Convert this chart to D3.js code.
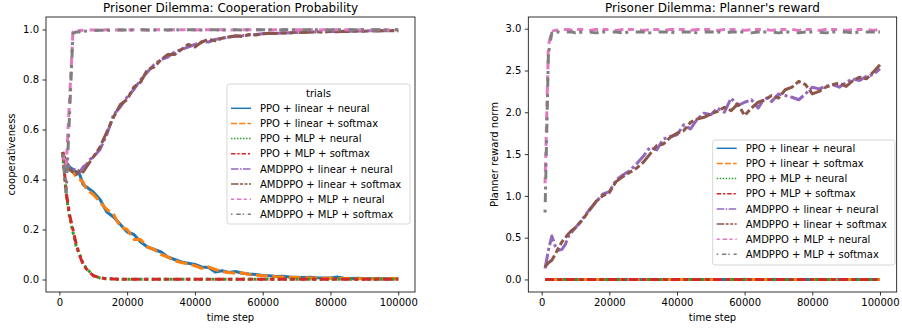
<!DOCTYPE html>
<html>
<head>
<meta charset="utf-8">
<script src="https://cdn.jsdelivr.net/npm/d3@7"></script>
<style>
  body { margin: 0; background: #fff; }
  svg { font-family: "DejaVu Sans", sans-serif; }
</style>
</head>
<body>
<svg width="902" height="329"></svg>
<script>
var trials = [
    "PPO + linear + neural",
    "PPO + linear + softmax",
    "PPO + MLP + neural",
    "PPO + MLP + softmax",
    "AMDPPO + linear + neural",
    "AMDPPO + linear + softmax",
    "AMDPPO + MLP + neural",
    "AMDPPO + MLP + softmax"
]

var steps = [1000,2000,3000,4000,5000,6000,7000,8000,9000,10000,
    12000,14000,16000,18000,20000,22000,24000,26000,28000,30000,
    32000,34000,36000,38000,40000,42000,44000,46000,48000,50000,
    52000,54000,56000,58000,60000,62000,64000,66000,68000,70000,
    72000,74000,76000,78000,80000,82000,84000,86000,88000,90000,
    92000,94000,96000,98000,100000]

var xTicks = [0, 20000, 40000, 60000, 80000, 100000]
var coopTicks = [0.0, 0.2, 0.4, 0.6, 0.8, 1.0]
var rewardTicks = [0.0, 0.5, 1.0, 1.5, 2.0, 2.5, 3.0]

// cooperation probability
var coopPpoLinNeural = [0.50,0.47,0.45,0.44,0.43,0.42,0.38,0.37,0.36,0.35,
    0.32,0.27,0.25,0.22,0.19,0.18,0.15,0.13,0.12,0.11,
    0.09,0.08,0.07,0.065,0.06,0.05,0.048,0.03,0.035,0.028,
    0.032,0.025,0.022,0.02,0.016,0.015,0.012,0.013,0.01,0.009,
    0.008,0.009,0.007,0.006,0.006,0.01,0.005,0.004,0.005,0.004,
    0.003,0.004,0.003,0.003,0.004]
var coopPpoLinSoftmax = [0.51,0.46,0.44,0.43,0.41,0.40,0.39,0.36,0.35,0.34,
    0.31,0.28,0.26,0.21,0.20,0.16,0.16,0.13,0.12,0.10,
    0.09,0.075,0.068,0.062,0.055,0.045,0.05,0.04,0.032,0.028,
    0.025,0.027,0.02,0.018,0.015,0.014,0.011,0.01,0.009,0.008,
    0.008,0.006,0.006,0.005,0.005,0.004,0.004,0.005,0.003,0.004,
    0.003,0.003,0.003,0.004,0.003]
var coopPpoMlpNeural = [0.50,0.34,0.25,0.19,0.13,0.10,0.065,0.044,0.03,0.016,
    0.006,0.003,0.002,0.001,0.001,0.001,0.001,0.001,0.001,0.001,
    0.001,0.001,0.001,0.001,0.001,0.001,0.001,0.001,0.001,0.001,
    0.001,0.001,0.001,0.001,0.001,0.001,0.001,0.001,0.001,0.001,
    0.001,0.001,0.001,0.001,0.001,0.001,0.001,0.001,0.001,0.001,
    0.001,0.001,0.001,0.001,0.001]
var coopPpoMlpSoftmax = [0.51,0.35,0.26,0.20,0.14,0.095,0.06,0.042,0.028,0.015,
    0.007,0.003,0.002,0.001,0.001,0.001,0.001,0.001,0.001,0.001,
    0.001,0.001,0.001,0.001,0.001,0.001,0.001,0.001,0.001,0.001,
    0.001,0.001,0.001,0.001,0.001,0.001,0.001,0.001,0.001,0.001,
    0.001,0.001,0.001,0.001,0.001,0.001,0.001,0.001,0.001,0.001,
    0.001,0.001,0.001,0.001,0.001]
var coopAmdLinNeural = [0.50,0.47,0.45,0.44,0.44,0.43,0.45,0.46,0.48,0.49,
    0.52,0.58,0.66,0.69,0.73,0.76,0.80,0.83,0.86,0.88,
    0.89,0.91,0.92,0.93,0.94,0.95,0.95,0.96,0.965,0.97,
    0.973,0.975,0.978,0.98,0.983,0.984,0.985,0.986,0.987,0.988,
    0.989,0.99,0.99,0.991,0.992,0.992,0.993,0.993,0.994,0.994,
    0.995,0.995,0.995,0.996,0.996]
var coopAmdLinSoftmax = [0.51,0.46,0.44,0.43,0.42,0.44,0.43,0.45,0.47,0.49,
    0.53,0.59,0.65,0.70,0.72,0.77,0.79,0.84,0.85,0.88,
    0.90,0.90,0.92,0.94,0.93,0.95,0.96,0.955,0.965,0.97,
    0.975,0.972,0.98,0.978,0.983,0.985,0.984,0.987,0.986,0.99,
    0.988,0.99,0.991,0.99,0.992,0.991,0.993,0.992,0.994,0.993,
    0.995,0.994,0.996,0.995,0.994]
var coopAmdMlpNeural = [0.50,0.45,0.72,0.99,0.995,0.996,0.997,0.997,0.998,0.998,
    0.998,0.999,0.998,0.999,0.998,0.999,0.999,0.998,0.999,0.999,
    0.998,0.999,0.999,0.999,0.998,0.999,0.999,0.999,0.999,0.998,
    0.999,0.999,0.999,0.999,0.999,0.998,0.999,0.999,0.999,0.999,
    0.999,0.999,0.998,0.999,0.999,0.999,0.999,0.999,0.999,0.999,
    0.998,0.999,0.999,0.999,0.999]
var coopAmdMlpSoftmax = [0.50,0.35,0.66,0.985,0.99,0.99,0.992,0.994,0.995,0.996,
    0.997,0.997,0.998,0.998,0.998,0.998,0.999,0.998,0.998,0.999,
    0.998,0.999,0.998,0.999,0.999,0.998,0.999,0.999,0.998,0.999,
    0.999,0.998,0.999,0.999,0.999,0.999,0.998,0.999,0.999,0.999,
    0.999,0.999,0.999,0.998,0.999,0.999,0.999,0.999,0.999,0.999,
    0.999,0.999,0.998,0.999,0.999]

// planner reward (PPO runs stay flat at zero)
var flatSteps = [1000, 100000]
var rewardPpoLinNeural = [0, 0]
var rewardPpoLinSoftmax = [0, 0]
var rewardPpoMlpNeural = [0, 0]
var rewardPpoMlpSoftmax = [0, 0]
var rewardAmdLinNeural = [0.13,0.35,0.52,0.40,0.35,0.36,0.42,0.52,0.57,0.62,
    0.72,0.83,0.92,1.02,1.05,1.19,1.25,1.30,1.38,1.47,
    1.58,1.55,1.68,1.71,1.73,1.85,1.80,1.92,1.99,1.97,
    2.05,2.00,2.17,2.08,2.12,2.15,2.05,2.18,2.13,2.22,
    2.20,2.18,2.15,2.22,2.30,2.28,2.31,2.33,2.30,2.36,
    2.40,2.38,2.43,2.45,2.52]
var rewardAmdLinSoftmax = [0.15,0.20,0.23,0.30,0.38,0.45,0.50,0.55,0.59,0.62,
    0.71,0.82,0.93,1.00,1.04,1.17,1.23,1.28,1.33,1.40,
    1.50,1.60,1.62,1.70,1.75,1.78,1.88,1.92,1.94,1.98,
    2.01,2.06,2.02,2.10,1.96,2.05,2.12,2.15,2.20,2.17,
    2.27,2.30,2.37,2.33,2.22,2.25,2.30,2.33,2.35,2.31,
    2.38,2.42,2.40,2.48,2.57]
var rewardAmdMlpNeural = [1.15,2.80,2.97,2.98,2.99,2.98,2.99,2.99,2.98,2.99,
    2.99,2.98,2.99,2.99,2.99,2.98,2.99,2.99,2.99,2.98,
    2.99,2.99,2.98,2.99,2.99,2.99,2.98,2.99,2.99,2.99,
    2.98,2.99,2.99,2.99,2.98,2.99,2.99,2.99,2.98,2.99,
    2.99,2.99,2.98,2.99,2.99,2.98,2.99,2.99,2.99,2.98,
    2.99,2.99,2.99,2.98,2.99]
var rewardAmdMlpSoftmax = [0.80,2.70,2.95,2.96,2.96,2.95,2.96,2.96,2.96,2.95,
    2.96,2.96,2.95,2.96,2.96,2.96,2.95,2.96,2.96,2.96,
    2.95,2.96,2.96,2.96,2.95,2.96,2.96,2.95,2.96,2.96,
    2.96,2.95,2.96,2.96,2.96,2.95,2.96,2.96,2.96,2.95,
    2.96,2.96,2.95,2.96,2.96,2.96,2.95,2.96,2.96,2.96,
    2.95,2.96,2.96,2.96,2.96]

var colors = ["#1f77b4", "#ff7f0e", "#2ca02c", "#d62728", "#9467bd", "#8c564b", "#e377c2", "#7f7f7f"]
// seaborn default dash patterns, in units of line width
var dashes = [[], [4, 1.5], [1, 1], [3, 1.25, 1.5, 1.25], [5, 1, 1, 1], [5, 1, 2, 1, 2, 1], [2, 2, 3, 1.5], [1, 2.5, 3, 1.2]]

function dashFor(i, lw) {
    if (!dashes[i].length) return null
    return dashes[i].map(d => d * lw).join(",")
}

var svg = d3.select("svg")

function drawPanel(opt) {
    var x = d3.scaleLinear().domain([-3950, 104950]).range([opt.left, opt.right])
    var y = d3.scaleLinear().domain(opt.yDomain).range([292, 17])

    var clipId = "clip" + opt.id
    svg.append("clipPath").attr("id", clipId)
        .append("rect")
        .attr("x", opt.left).attr("y", 17)
        .attr("width", opt.right - opt.left).attr("height", 275)

    var line = d3.line()
        .x(d => x(d[0]))
        .y(d => y(d[1]))

    var g = svg.append("g").attr("clip-path", "url(#" + clipId + ")")
    opt.series.forEach(function (s, i) {
        g.append("path")
            .datum(d3.zip(s.steps, s.values))
            .attr("d", line)
            .attr("fill", "none")
            .attr("stroke", colors[i])
            .attr("stroke-width", 3)
            .attr("stroke-linecap", "butt")
            .attr("stroke-linejoin", "round")
            .attr("stroke-dasharray", dashFor(i, 3))
    })

    // axes
    var xAxis = svg.append("g")
        .attr("transform", "translate(0,292)")
        .call(d3.axisBottom(x).tickValues(xTicks).tickFormat(d3.format("d")).tickSize(3.5).tickPadding(3.5))
    var yAxis = svg.append("g")
        .attr("transform", "translate(" + opt.left + ",0)")
        .call(d3.axisLeft(y).tickValues(opt.yTicks).tickFormat(d3.format(".1f")).tickSize(3.5).tickPadding(3.5))
    ;[xAxis, yAxis].forEach(function (a) {
        a.select(".domain").remove()
        a.selectAll("text").attr("font-size", 10).attr("fill", "#000").attr("font-family", "DejaVu Sans")
        a.selectAll("line").attr("stroke", "#000").attr("stroke-width", 0.8)
    })

    svg.append("rect")
        .attr("x", opt.left).attr("y", 17)
        .attr("width", opt.right - opt.left).attr("height", 275)
        .attr("fill", "none").attr("stroke", "#000").attr("stroke-width", 0.8)

    svg.append("text")
        .attr("x", (opt.left + opt.right) / 2).attr("y", 12)
        .attr("text-anchor", "middle").attr("font-size", 12)
        .text(opt.title)

    svg.append("text")
        .attr("x", (opt.left + opt.right) / 2).attr("y", 321)
        .attr("text-anchor", "middle").attr("font-size", 10)
        .text("time step")

    svg.append("text")
        .attr("transform", "translate(" + opt.yLabelX + ",154.5) rotate(-90)")
        .attr("text-anchor", "middle").attr("font-size", 10)
        .text(opt.yLabel)

    // legend
    var lg = opt.legend
    svg.append("rect")
        .attr("x", lg.x).attr("y", lg.y)
        .attr("width", lg.w).attr("height", lg.h)
        .attr("rx", 2.5)
        .attr("fill", "#fff").attr("fill-opacity", 0.8)
        .attr("stroke", "#ccc").attr("stroke-width", 0.8)
    if (lg.title) {
        svg.append("text")
            .attr("x", lg.x + lg.w / 2).attr("y", lg.y + 13)
            .attr("text-anchor", "middle").attr("font-size", 10)
            .text(lg.title)
    }
    var items = svg.append("g").selectAll("g")
        .data(trials)
        .join("g")
        .attr("transform", (d, i) => "translate(" + (lg.x + 4) + "," + (lg.first + i * 15.15) + ")")
    items.append("line")
        .attr("x1", 0).attr("x2", 20)
        .attr("stroke", (d, i) => colors[i])
        .attr("stroke-width", 1.5)
        .attr("stroke-dasharray", (d, i) => dashFor(i, 1.5))
    items.append("text")
        .attr("x", 29).attr("y", 3.6)
        .attr("font-size", 10)
        .text(d => d)
}

drawPanel({
    id: 1,
    left: 46, right: 415,
    yDomain: [-0.05, 1.05],
    yTicks: coopTicks,
    title: "Prisoner Dilemma: Cooperation Probability",
    yLabel: "cooperativeness",
    yLabelX: 15,
    legend: { x: 227, y: 84, w: 183, h: 140, first: 108.3, title: "trials" },
    series: [
        { steps: steps, values: coopPpoLinNeural },
        { steps: steps, values: coopPpoLinSoftmax },
        { steps: steps, values: coopPpoMlpNeural },
        { steps: steps, values: coopPpoMlpSoftmax },
        { steps: steps, values: coopAmdLinNeural },
        { steps: steps, values: coopAmdLinSoftmax },
        { steps: steps, values: coopAmdMlpNeural },
        { steps: steps, values: coopAmdMlpSoftmax }
    ]
})

drawPanel({
    id: 2,
    left: 528.3, right: 896.7,
    yDomain: [-0.15, 3.14],
    yTicks: rewardTicks,
    title: "Prisoner Dilemma: Planner's reward",
    yLabel: "Planner reward norm",
    yLabelX: 498,
    legend: { x: 712.7, y: 140, w: 182.3, h: 125, first: 148.3, title: null },
    series: [
        { steps: flatSteps, values: rewardPpoLinNeural },
        { steps: flatSteps, values: rewardPpoLinSoftmax },
        { steps: flatSteps, values: rewardPpoMlpNeural },
        { steps: flatSteps, values: rewardPpoMlpSoftmax },
        { steps: steps, values: rewardAmdLinNeural },
        { steps: steps, values: rewardAmdLinSoftmax },
        { steps: steps, values: rewardAmdMlpNeural },
        { steps: steps, values: rewardAmdMlpSoftmax }
    ]
})
</script>
</body>
</html>
